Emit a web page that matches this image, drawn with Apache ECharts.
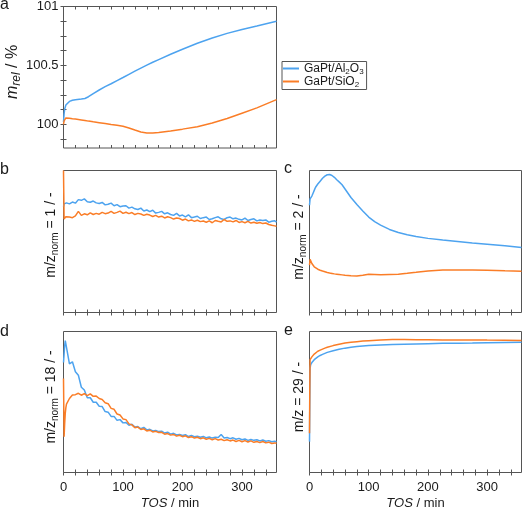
<!DOCTYPE html>
<html><head><meta charset="utf-8">
<script src="https://cdn.jsdelivr.net/npm/echarts@6/dist/echarts.min.js"></script>
<style>html,body{margin:0;padding:0;background:#fff}#c{width:524px;height:511px}</style>
</head><body><div id="c"></div>
<script>
// ---------- data ----------
const seriesNames = ['GaPt/Al2O3', 'GaPt/SiO2'];

// x tick / label values (TOS, min)
const xTickValues = [0,20,40,60,80,100,120,140,160,180,200,220,240,260,280,300,320,340];
const xLabelValues = [0,100,200,300];
// panel a y ticks / labels (m_rel, %)
const yTickA = [99.875,100,100.125,100.25,100.375,100.5,100.625,100.75,100.875,101];
const yLabelA = [100,100.5,101];

// panel a : relative mass
const tosA = [0,1,2,4,6,10,15,20,30,36,42,50,60,70,80,90,100,110,120,130,140,150,160,180,200,225,250,275,300,325,358];
const massAl = [100.02,100.09,100.13,100.165,100.18,100.195,100.205,100.21,100.215,100.22,100.235,100.262,100.292,100.32,100.345,100.372,100.398,100.425,100.452,100.478,100.503,100.527,100.55,100.595,100.638,100.688,100.733,100.772,100.805,100.835,100.875];
const massSi = [100.0,100.03,100.045,100.055,100.055,100.052,100.048,100.045,100.038,100.033,100.028,100.022,100.015,100.008,100.0,99.993,99.985,99.97,99.952,99.935,99.928,99.928,99.932,99.945,99.96,99.98,100.012,100.05,100.095,100.14,100.21];

// panels b and d : noisy MS signals (normalised)
const tosN = [0,1,2,3,4,5,10,15,20,25,30,35,40,45,50,55,60,65,70,75,80,85,90,95,100,105,110,115,120,125,130,135,140,145,150,155,160,165,170,175,180,185,190,195,200,205,210,215,220,225,230,235,240,245,250,255,260,265,270,275,280,285,290,295,300,305,310,315,320,325,330,335,340,345,350,355,358];
const mz1Al = [0.745,0.765,0.758,0.775,0.762,
  0.772,0.765,0.778,0.77,0.795,0.79,0.80,0.78,0.776,0.785,0.772,
  0.768,0.775,0.758,0.762,0.77,0.752,0.76,0.745,0.75,0.752,0.735,
  0.742,0.73,0.725,0.735,0.715,0.722,0.71,0.72,0.70,0.705,0.712,
  0.695,0.702,0.69,0.684,0.698,0.68,0.686,0.674,0.688,0.668,0.672,
  0.678,0.662,0.668,0.672,0.655,0.66,0.668,0.674,0.66,0.655,0.668,
  0.672,0.66,0.665,0.656,0.652,0.665,0.648,0.655,0.66,0.645,0.652,
  0.648,0.652,0.636,0.642,0.646,
  0.636];
const mz1Si = [1.0,0.658,0.672,0.662,0.675,
  0.662,0.672,0.668,0.68,0.712,0.684,0.695,0.688,0.702,0.69,0.698,
  0.692,0.705,0.696,0.70,0.712,0.698,0.705,0.714,0.698,0.706,0.696,
  0.704,0.69,0.698,0.694,0.684,0.692,0.686,0.676,0.684,0.672,0.678,
  0.666,0.674,0.668,0.658,0.666,0.662,0.65,0.658,0.645,0.652,0.642,
  0.65,0.64,0.644,0.636,0.645,0.632,0.648,0.642,0.638,0.655,0.642,
  0.645,0.638,0.648,0.634,0.64,0.632,0.642,0.63,0.636,0.628,0.634,
  0.626,0.63,0.62,0.614,0.61,
  0.607];
const mz18Al = [0.78,0.84,0.90,0.935,0.945,
  0.93,0.77,0.785,0.715,0.69,0.605,0.585,0.53,0.53,0.498,0.498,
  0.47,0.468,0.432,0.428,0.398,0.398,0.37,0.375,0.352,0.355,0.335,
  0.342,0.322,0.326,0.31,0.32,0.302,0.306,0.295,0.298,0.29,0.293,
  0.28,0.286,0.272,0.278,0.266,0.27,0.262,0.268,0.255,0.262,0.254,
  0.258,0.25,0.256,0.246,0.252,0.244,0.25,0.248,0.27,0.245,0.248,
  0.24,0.246,0.236,0.242,0.232,0.238,0.228,0.234,0.228,0.232,0.224,
  0.23,0.222,0.226,0.218,0.222,
  0.218];
const mz18Si = [0.666,0.254,0.35,0.42,0.46,
  0.485,0.525,0.55,0.552,0.562,0.548,0.56,0.545,0.558,0.54,0.542,
  0.525,0.518,0.495,0.488,0.455,0.448,0.415,0.408,0.38,0.375,0.345,
  0.338,0.318,0.322,0.305,0.31,0.295,0.30,0.288,0.292,0.284,0.285,
  0.272,0.276,0.265,0.27,0.258,0.264,0.254,0.26,0.248,0.254,0.244,
  0.25,0.24,0.246,0.236,0.242,0.232,0.24,0.23,0.236,0.226,0.232,
  0.224,0.23,0.22,0.228,0.218,0.226,0.216,0.224,0.214,0.22,0.212,
  0.22,0.21,0.215,0.206,0.21,
  0.207];

// panel c : m/z = 2
const tosC = [0,1,2,4,6,8,10,14,18,22,26,30,34,38,42,46,50,55,60,65,70,80,90,100,110,120,135,150,165,180,200,225,250,275,300,330,358];
const mz2Al = [0.755,0.80,0.79,0.82,0.84,0.86,0.88,0.905,0.925,0.945,0.96,0.97,0.972,0.965,0.952,0.935,0.92,0.90,0.87,0.84,0.81,0.76,0.715,0.672,0.64,0.615,0.585,0.563,0.547,0.535,0.522,0.51,0.50,0.49,0.481,0.47,0.458];
const mz2Si = [0.334,0.374,0.36,0.345,0.333,0.322,0.315,0.305,0.298,0.292,0.287,0.282,0.278,0.275,0.272,0.27,0.268,0.265,0.262,0.26,0.258,0.257,0.262,0.27,0.268,0.266,0.268,0.27,0.276,0.283,0.293,0.299,0.30,0.299,0.298,0.294,0.291];

// panel e : m/z = 29
const tosE = [0,0.5,1,2,4,6,8,10,14,18,22,26,30,40,50,60,70,80,90,100,120,140,160,180,200,225,250,275,300,330,358];
const mz29Al = [0.219,0.50,0.74,0.765,0.78,0.79,0.80,0.808,0.82,0.83,0.838,0.845,0.852,0.864,0.874,0.882,0.888,0.893,0.897,0.90,0.905,0.908,0.91,0.912,0.914,0.916,0.917,0.918,0.92,0.922,0.924];
const mz29Si = [0.278,0.60,0.80,0.81,0.82,0.83,0.84,0.85,0.86,0.868,0.875,0.882,0.888,0.90,0.91,0.918,0.923,0.928,0.932,0.935,0.94,0.943,0.943,0.942,0.941,0.94,0.94,0.94,0.939,0.938,0.936];

// ---------- chart ----------
const FONT = '"Liberation Sans", Arial, Helvetica, sans-serif';
const AX = '#555';
const TXT = '#1a1a1a';
const BLUE = '#4da3ef';
const ORANGE = '#fa7d27';

const layout = [
  {left: 63.5, top: 6.5, width: 213, height: 141.5},
  {left: 63.5, top: 170.5, width: 213, height: 142},
  {left: 309.5, top: 170.5, width: 212, height: 142},
  {left: 63.5, top: 331.5, width: 213, height: 141},
  {left: 309.5, top: 331.5, width: 212, height: 141}
];

const panelData = [
  {x: tosA, al: massAl, si: massSi},
  {x: tosN, al: mz1Al, si: mz1Si},
  {x: tosC, al: mz2Al, si: mz2Si},
  {x: tosN, al: mz18Al, si: mz18Si},
  {x: tosE, al: mz29Al, si: mz29Si}
];

const zip = (xs, ys) => xs.map((x, i) => [x, ys[i]]);

const grids = layout.map(p => Object.assign({
  show: true, borderColor: AX, borderWidth: 1, backgroundColor: 'transparent',
  containLabel: false, outerBoundsMode: 'none'
}, p));

const xAxes = [];
const yAxes = [];
layout.forEach((p, i) => {
  const hasLabels = i >= 3;
  ['bottom', 'top'].forEach(pos => {
    xAxes.push({
      gridIndex: i, type: 'value', position: pos, min: 0, max: 358,
      axisLine: {show: false},
      splitLine: {show: false},
      axisTick: {show: true, inside: true, length: 3, customValues: xTickValues, lineStyle: {color: AX, width: 1}},
      axisLabel: (pos === 'bottom' && hasLabels) ? {
        show: true, customValues: xLabelValues, fontSize: 13, color: TXT, fontFamily: FONT, margin: 8
      } : {show: false},
      name: (pos === 'bottom' && hasLabels) ? '{i|TOS} / min' : '',
      nameLocation: 'middle', nameGap: 24,
      nameTextStyle: {fontSize: 13, color: TXT, fontFamily: FONT,
        rich: {i: {fontSize: 13, fontStyle: 'italic', color: TXT, fontFamily: FONT}}}
    });
  });
  ['left', 'right'].forEach(pos => {
    if (i === 0) {
      yAxes.push({
        gridIndex: i, type: 'value', position: pos, min: 99.8, max: 101,
        axisLine: {show: false}, splitLine: {show: false},
        axisTick: {show: true, inside: true, length: 3, customValues: yTickA, lineStyle: {color: AX}},
        axisLabel: pos === 'left' ? {show: true, customValues: yLabelA, fontSize: 13, color: TXT, fontFamily: FONT, margin: 5} : {show: false}
      });
    } else {
      yAxes.push({
        gridIndex: i, type: 'value', position: pos, min: 0, max: 1,
        axisLine: {show: false}, splitLine: {show: false},
        axisTick: {show: false}, axisLabel: {show: false}
      });
    }
  });
});

const series = [];
panelData.forEach((d, i) => {
  [[seriesNames[0], d.al, BLUE], [seriesNames[1], d.si, ORANGE]].forEach(([name, ys, color]) => {
    series.push({
      name, type: 'line', xAxisIndex: 2 * i, yAxisIndex: 2 * i,
      data: zip(d.x, ys), symbol: 'none', showSymbol: false, clip: true,
      lineStyle: {color, width: 1.5}, itemStyle: {color},
      emphasis: {disabled: true}, silent: true
    });
  });
});

const subRich = (size, italic) => ({
  b: {fontSize: size, lineHeight: size + 4, fontFamily: FONT, color: TXT},
  i: {fontSize: size, lineHeight: size + 4, fontFamily: FONT, color: TXT, fontStyle: 'italic'},
  s: {fontSize: Math.round(size * 0.72), lineHeight: Math.round(size * 0.72), verticalAlign: 'bottom', fontFamily: FONT, color: TXT, fontStyle: italic ? 'italic' : 'normal'}
});

const vTitle = (x, y, text, size, italicSub) => ({
  type: 'text', x, y, rotation: Math.PI / 2, silent: true,
  style: {text, rich: subRich(size, italicSub), align: 'center', verticalAlign: 'middle', fontFamily: FONT, fontSize: size, fill: TXT}
});
const letter = (x, y, t) => ({
  type: 'text', x, y, silent: true,
  style: {text: t, fontFamily: FONT, fontSize: 16, fill: TXT, align: 'left', verticalAlign: 'middle'}
});

const legendLabels = {
  'GaPt/Al2O3': '{b|GaPt/Al}{s|2}{b|O}{s|3}',
  'GaPt/SiO2': '{b|GaPt/SiO}{s|2}'
};

const option = {
  animation: false,
  backgroundColor: '#fff',
  grid: grids,
  xAxis: xAxes,
  yAxis: yAxes,
  series,
  legend: {
    orient: 'vertical', left: 282, top: 61.5,
    data: seriesNames, icon: 'rect', itemWidth: 16, itemHeight: 2, itemGap: 0,
    padding: [1, 3, 1, 1], borderColor: AX, borderWidth: 1, backgroundColor: '#fff',
    selectedMode: false,
    formatter: n => legendLabels[n],
    textStyle: {fontSize: 12, fontFamily: FONT, color: TXT, rich: {
      b: {fontSize: 12, lineHeight: 14, fontFamily: FONT, color: TXT},
      s: {fontSize: 8, lineHeight: 8, verticalAlign: 'bottom', fontFamily: FONT, color: TXT}
    }}
  },
  graphic: [
    letter(0, 5, 'a'), letter(0, 170, 'b'), letter(284, 169, 'c'),
    letter(0, 332, 'd'), letter(284, 331, 'e'),
    vTitle(12.5, 72, '{i|m}{s|rel}{b| / %}', 16, true),
    vTitle(51, 235, '{b|m/z}{s|norm}{b| = 1 / -}', 14, false),
    vTitle(299, 237, '{b|m/z}{s|norm}{b| = 2 / -}', 14, false),
    vTitle(51, 397, '{b|m/z}{s|norm}{b| = 18 / -}', 14, false),
    vTitle(299, 397, '{b|m/z = 29 / -}', 14, false)
  ]
};

const chart = echarts.init(document.getElementById('c'), null, {renderer: 'canvas'});
chart.setOption(option);
</script>
</body></html>
